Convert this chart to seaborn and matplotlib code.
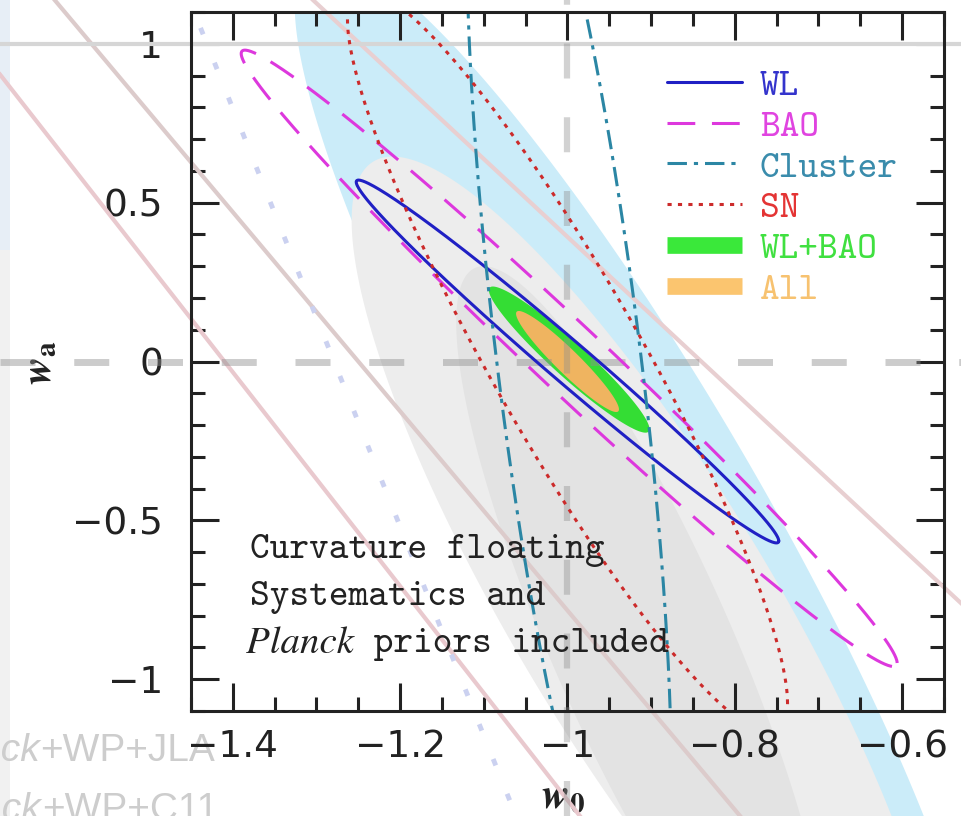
import numpy as np
import pandas as pd
import matplotlib
matplotlib.use("Agg")
import matplotlib.pyplot as plt
from matplotlib.lines import Line2D
from matplotlib.patches import Rectangle
from matplotlib.ticker import MultipleLocator, FuncFormatter
from matplotlib.font_manager import FontProperties
import seaborn as sns

# Single-probe forecast contours: centre, half-extent in w0 / wa, correlation
probes    = ["WL", "BAO", "Cluster", "SN"]
probe_w0  = [-1.000, -0.998, -0.998, -1.000]
probe_wa  = [0.000, 0.010, 0.000, 0.000]
probe_sw0 = [0.2525, 0.392, 0.1223, 0.263]
probe_swa = [0.571, 0.970, 1.880, 1.170]
probe_rho = [-0.989, -0.9886, -0.706, -0.920]

# Combined constraints (filled)
combos    = ["WL+BAO", "All"]
combo_w0  = [-0.998, -1.000]
combo_wa  = [0.006, 0.000]
combo_sw0 = [0.096, 0.0615]
combo_swa = [0.230, 0.159]
combo_rho = [-0.950, -0.946]

# Current-data constraints underneath (outer to inner)
bg_w0  = [-0.915, -0.906, -0.910]
bg_wa  = [-0.50, -0.80, -0.90]
bg_sw0 = [0.411, 0.352, 0.223]
bg_swa = [1.78, 1.445, 1.20]
bg_rho = [-0.910, -0.861, -0.853]

# Pivot degeneracy lines  w0 + s*wa = c
pivot_c = [-1.41, -1.25, -0.84]
pivot_s = [0.297, 0.319, 0.408]

# Fiducial model
fid_w0, fid_wa = -1.0, 0.0

line_colors = {"WL": "#2020c4", "BAO": "#dd38dd", "Cluster": "#2b86a4", "SN": "#cc2b2b"}
text_colors = {"WL": "#3434cc", "BAO": "#e044e0", "Cluster": "#3a8cac", "SN": "#e43434",
               "WL+BAO": "#40e040", "All": "#f7c270"}
fill_colors = {"WL+BAO": "#34dd34", "All": "#efb460"}
dash_styles = {"WL": "", "BAO": (20, 12), "Cluster": (14, 5, 3, 5), "SN": (3, 4.5)}


def ellipse(cx, cy, sx, sy, rho, n=500):
    t = np.linspace(0, 2 * np.pi, n)
    x = cx + sx * np.cos(t)
    y = cy + sy * (rho * np.cos(t) + np.sqrt(1 - rho ** 2) * np.sin(t))
    return x, y


sns.set_style("ticks")
plt.rcParams["font.family"] = ["DejaVu Sans"]
plt.rcParams["lines.scale_dashes"] = False
plt.rcParams["axes.unicode_minus"] = True

fig = plt.figure(figsize=(9.62, 8.16), dpi=100)
# pale strip along the left edge
fig.add_artist(Rectangle((0, 1 - 250 / 816), 10 / 962, 250 / 816, transform=fig.transFigure,
                         color="#e7eef6", lw=0, zorder=-2))
fig.add_artist(Rectangle((0, 0), 10 / 962, 1 - 250 / 816, transform=fig.transFigure,
                         color="#f1f1f1", lw=0, zorder=-2))
ax = fig.add_axes([191 / 962, 1 - 711 / 816, 753 / 962, 699 / 816])

# the comparison constraints continue below the frame, not above it
below_frame = Rectangle((0, -0.2), 1, 1.2, transform=ax.transAxes, fill=False, lw=0)
ax.add_artist(below_frame)
below_frame.set_visible(False)

# --- underlying constraints ---------------------------------------------
for (cx, cy, sx, sy, r), col in zip(zip(bg_w0, bg_wa, bg_sw0, bg_swa, bg_rho),
                                     ["#cbecf9", "#ededed", "#e3e3e3"]):
    ex, ey = ellipse(cx, cy, sx, sy, r)
    for patch in ax.fill(ex, ey, color=col, lw=0, zorder=0.5):
        patch.set_clip_path(below_frame)

wa_line = np.array([1.5, -1.6])
for c, s, col in zip(pivot_c, pivot_s, ["#e9c9ce", "#dccbcb", "#e8cfd1"]):
    ax.plot(c - s * wa_line, wa_line, color=col, lw=3, zorder=0.8, clip_on=False)

# faint dotted contour from the comparison data
wa_dot = np.linspace(1.05, -1.45, 60)
ax.plot(-1.279 - 0.152 * wa_dot, wa_dot, color="#cbd1f0", lw=3.5,
        dashes=(5, 22), zorder=0.8, clip_on=False)

# --- combined constraints (filled) ----------------------------------------
for name, cx, cy, sx, sy, r in zip(combos, combo_w0, combo_wa, combo_sw0, combo_swa, combo_rho):
    ex, ey = ellipse(cx, cy, sx, sy, r)
    ax.fill(ex, ey, color=fill_colors[name], lw=0, zorder=2)

# fiducial cross and the upper frame line of the comparison panel
ax.axhline(fid_wa, xmin=-191 / 753, xmax=1 + 18 / 753, color="#8f8f8f", alpha=0.45,
           lw=5, dashes=(25.2, 27.9), dash_capstyle="butt", clip_on=False, zorder=2.5)
ax.axvline(fid_w0, ymin=-105 / 699, ymax=1 + 12 / 699, color="#8f8f8f", alpha=0.4,
           lw=4.5, dashes=(25.2, 27.9), dash_capstyle="butt", clip_on=False, zorder=2.5)
ax.axhline(1.0, xmin=-191 / 753, xmax=1 + 18 / 753, color="#d6d6d6", lw=3,
           clip_on=False, zorder=0.9)

# --- single-probe contours ---------------------------------------------
rows = []
for name, cx, cy, sx, sy, r in zip(probes, probe_w0, probe_wa, probe_sw0, probe_swa, probe_rho):
    ex, ey = ellipse(cx, cy, sx, sy, r)
    rows.append(pd.DataFrame({"w0": ex, "wa": ey, "probe": name}))
df = pd.concat(rows, ignore_index=True)

sns.lineplot(data=df, x="w0", y="wa", hue="probe", style="probe",
             palette=line_colors, dashes=dash_styles, sort=False, estimator=None,
             legend=False, lw=2.2, ax=ax, zorder=3)
ax.set_xlim(-1.45, -0.55)
ax.set_ylim(-1.1, 1.1)

# --- axes styling ----------------------------------------------------------
ax.set_facecolor("none")
for sp in ax.spines.values():
    sp.set_linewidth(2.2)
    sp.set_color("#222222")
    sp.set_zorder(5)
ax.xaxis.set_major_locator(MultipleLocator(0.2))
ax.xaxis.set_minor_locator(MultipleLocator(0.05))
ax.yaxis.set_major_locator(MultipleLocator(0.5))
ax.yaxis.set_minor_locator(MultipleLocator(0.1))
fmt = FuncFormatter(lambda v, p: f"{round(v, 6):g}".replace("-", "\u2212"))
ax.xaxis.set_major_formatter(fmt)
ax.yaxis.set_major_formatter(fmt)
ax.tick_params(which="both", direction="in", top=True, right=True,
               width=2.2, color="#222222", labelcolor="#222222", labelsize=27)
ax.tick_params(which="major", length=20)
ax.tick_params(which="minor", length=10)
ax.tick_params(axis="x", pad=13)
ax.tick_params(axis="y", pad=20)

ax.set_xlabel(r"$\mathbfit{w}_{\mathbf{0}}$", fontsize=30, math_fontfamily="stix", color="#222222")
ax.set_ylabel(r"$\mathbfit{w}_{\mathbf{a}}$", fontsize=30, math_fontfamily="stix", color="#222222")
ax.xaxis.set_label_coords((563 - 191) / 753, (711 - 795) / 699)
ax.xaxis.label.set_va("center")
ax.yaxis.set_label_coords((38 - 191) / 753, (711 - 363) / 699)
ax.yaxis.label.set_va("center")

# --- legend -----------------------------------------------------------------
handles = [Line2D([], [], color=line_colors[p], lw=2.2,
                  **({"ls": "-"} if dash_styles[p] == "" else {"dashes": dash_styles[p]}))
           for p in probes]
handles += [Line2D([], [], color=c, lw=12, solid_capstyle="butt")
            for c in ["#3ae83a", "#fbc56f"]]
labels = probes + combos
leg = ax.legend(handles, labels, loc="upper left", bbox_to_anchor=(0.632, 0.919),
                frameon=False, prop=FontProperties(family="cmtt10", size=27),
                handlelength=2.0, handletextpad=0.48, labelspacing=0.15,
                borderpad=0, borderaxespad=0)
for txt, lab in zip(leg.get_texts(), labels):
    txt.set_color(text_colors[lab])
leg.set_zorder(6)

# --- annotation -------------------------------------------------------------
tt = FontProperties(family="cmtt10", size=27)
ax.text(0.078, 0.230, "Curvature floating", transform=ax.transAxes, fontproperties=tt,
        color="#222222", va="center", zorder=6)
ax.text(0.078, 0.163, "Systematics and", transform=ax.transAxes, fontproperties=tt,
        color="#222222", va="center", zorder=6)
pl = ax.text(0.073, 0.097, "Planck", transform=ax.transAxes, color="#222222",
             va="center", zorder=6,
             fontproperties=FontProperties(family="STIXGeneral", style="italic", size=28))
ax.annotate(" priors included", xy=(1, 0), xycoords=pl, va="bottom",
            fontproperties=tt, color="#222222", zorder=6)

# labels of the comparison data sets along the lower left edge
bg_font = FontProperties(family="Liberation Sans", size=28)
bg_font_it = FontProperties(family="Liberation Sans", style="italic", size=28)
j1 = fig.text(215 / 962, 1 - 751 / 816, "+WP+JLA", ha="right", va="center",
              color="#cdcdcd", fontproperties=bg_font, zorder=-1)
ax.annotate("Planck", xy=(0, 0), xycoords=j1, ha="right", va="bottom",
            color="#cdcdcd", fontproperties=bg_font_it, annotation_clip=False)
j2 = fig.text(218 / 962, 1 - 810 / 816, "+WP+C11", ha="right", va="center",
              color="#cdcdcd", fontproperties=bg_font, zorder=-1)
ax.annotate("Planck", xy=(0, 0), xycoords=j2, ha="right", va="bottom",
            color="#cdcdcd", fontproperties=bg_font_it, annotation_clip=False)

fig.savefig("out.png", dpi=100)
